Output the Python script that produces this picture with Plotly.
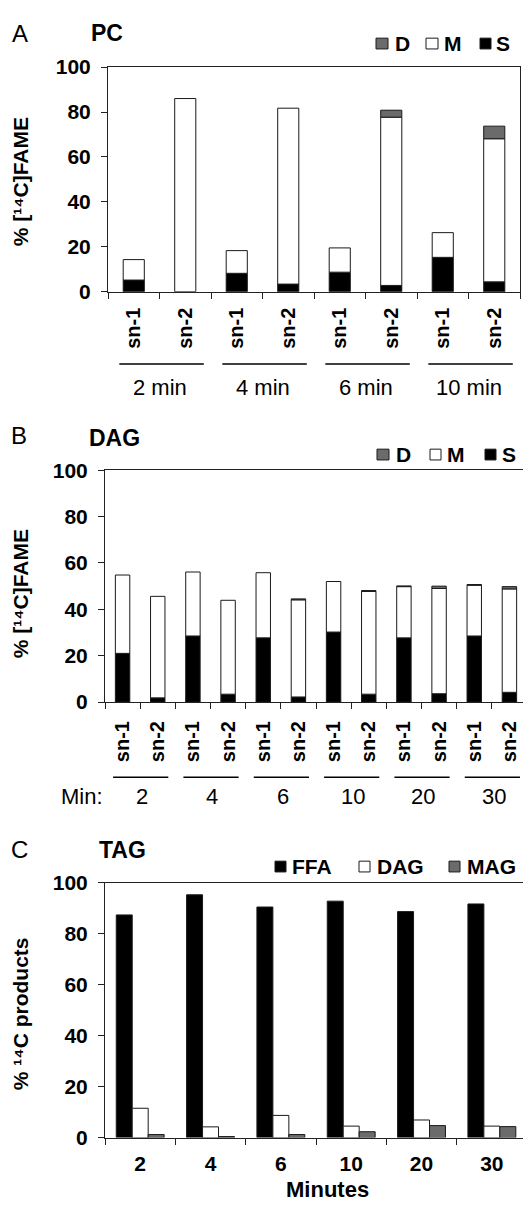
import plotly.graph_objects as go
import numpy as np

W, H = 531, 1207
FONT = "Liberation Sans"

# ---------------- Data ----------------
# Panel A: PC
pc_times = ["2 min", "4 min", "6 min", "10 min"]
pc_positions = ["sn-1", "sn-2"]
pc_S = [5.2, 0.0, 8.2, 3.4, 8.7, 2.8, 15.3, 4.4]
pc_M = [9.1, 86.0, 10.1, 78.3, 10.8, 74.9, 11.0, 63.7]
pc_D = [0.0, 0.0, 0.0, 0.0, 0.0, 3.1, 0.0, 5.6]

# Panel B: DAG
dag_times = ["2", "4", "6", "10", "20", "30"]
dag_positions = ["sn-1", "sn-2"]
dag_S = [21.0, 1.8, 28.5, 3.4, 27.7, 2.2, 30.2, 3.4, 27.7, 3.6, 28.5, 4.2]
dag_M = [33.8, 43.8, 27.6, 40.5, 28.1, 41.9, 21.8, 44.3, 22.1, 45.4, 21.9, 44.6]
dag_D = [0.0, 0.0, 0.0, 0.0, 0.0, 0.4, 0.0, 0.4, 0.3, 1.0, 0.3, 1.0]

# Panel C: TAG
tag_minutes = ["2", "4", "6", "10", "20", "30"]
tag_FFA = [87.3, 95.2, 90.4, 92.7, 88.6, 91.6]
tag_DAG = [11.5, 4.2, 8.7, 4.5, 6.9, 4.5]
tag_MAG = [1.2, 0.4, 1.2, 2.3, 4.7, 4.3]

y_ticks = [0, 20, 40, 60, 80, 100]

# ---------------- Styles ----------------
BLACK = "#000000"
WHITE = "#ffffff"
GRAY = "#6b6b6b"
EDGE = "#1a1a1a"


def fx(p):
    return p / W


def fy(p):
    return 1 - p / H


fig = go.Figure()


def stacked(xaxis, yaxis, cats, S, M, D):
    S = np.array(S)
    M = np.array(M)
    D = np.array(D)
    for vals, base, col in [(S, np.zeros_like(S), BLACK), (M, S, WHITE), (D, S + M, GRAY)]:
        shown = [v if v > 0 else None for v in vals]
        fig.add_trace(go.Bar(
            x=cats, y=shown, base=base, width=0.41, offset=-0.205,
            marker=dict(color=col, line=dict(color=EDGE, width=1)),
            xaxis=xaxis, yaxis=yaxis, showlegend=False, hoverinfo="skip"))


pc_cats = [f"{t} {p}" for t in pc_times for p in pc_positions]
dag_cats = [f"{t} {p}" for t in dag_times for p in dag_positions]
stacked("x", "y", pc_cats, pc_S, pc_M, pc_D)
stacked("x2", "y2", dag_cats, dag_S, dag_M, dag_D)

bw = 0.227
for vals, off, col in [(tag_FFA, -0.34, BLACK), (tag_DAG, -0.34 + bw, WHITE), (tag_MAG, -0.34 + 2 * bw, GRAY)]:
    fig.add_trace(go.Bar(
        x=tag_minutes, y=vals, width=bw, offset=off,
        marker=dict(color=col, line=dict(color=EDGE, width=1)),
        xaxis="x3", yaxis="y3", showlegend=False, hoverinfo="skip"))

tickfont = dict(family=FONT, size=21, color="black", weight=700)
xtickfont = dict(family=FONT, size=20, color="black", weight=700)

common_x = dict(type="category", showgrid=False, zeroline=False, showline=True,
                linecolor="#222", linewidth=1, mirror=True, ticks="outside",
                ticklen=6, tickcolor="#222", tickson="boundaries", fixedrange=True)
common_y = dict(range=[0, 100], tickvals=y_ticks, showgrid=False, zeroline=False,
                showline=True, linecolor="#222", linewidth=1, mirror=True,
                ticks="outside", ticklen=6, tickcolor="#222", tickfont=tickfont,
                ticklabelstandoff=6, fixedrange=True)

fig.update_layout(
    width=W, height=H, autosize=False,
    margin=dict(l=0, r=0, t=0, b=0),
    paper_bgcolor="white", plot_bgcolor="white",
    barmode="overlay", showlegend=False,
    xaxis=dict(common_x, domain=[fx(100), fx(512)], anchor="y",
               tickmode="array", tickvals=pc_cats,
               ticktext=[p for t in pc_times for p in pc_positions],
               tickangle=-90, tickfont=xtickfont, ticklabelstandoff=7),
    yaxis=dict(common_y, domain=[fy(277), fy(48)], anchor="x"),
    xaxis2=dict(common_x, domain=[fx(97), fx(519)], anchor="y2",
                tickmode="array", tickvals=dag_cats,
                ticktext=[p for t in dag_times for p in dag_positions],
                tickangle=-90, tickfont=xtickfont, ticklabelstandoff=10),
    yaxis2=dict(common_y, domain=[fy(695.3), fy(459)], anchor="x2"),
    xaxis3=dict(common_x, domain=[fx(97), fx(519)], anchor="y3",
                tickfont=dict(family=FONT, size=21, color="black", weight=700),
                ticklabelstandoff=7),
    yaxis3=dict(common_y, domain=[fy(1139.3), fy(879.3)], anchor="x3"),
)

ann = []
shapes = []


def text(x, y, s, size, bold=False, xanchor="center", yanchor="middle", angle=0,
         xref="paper", yref="paper"):
    ann.append(dict(x=x, y=y, text=s, xref=xref, yref=yref, showarrow=False,
                    xanchor=xanchor, yanchor=yanchor, textangle=angle,
                    font=dict(family=FONT, size=size, color="black",
                              weight=700 if bold else 400)))


# panel letters and titles
text(fx(2), fy(13.5), "A", 24, xanchor="left")
text(fx(81), fy(13.5), "PC", 23, bold=True, xanchor="left")
text(fx(1), fy(424), "B", 24, xanchor="left")
text(fx(79), fy(426), "DAG", 23, bold=True, xanchor="left")
text(fx(1), fy(846), "C", 24, xanchor="left")
text(fx(89), fy(846), "TAG", 23, bold=True, xanchor="left")

# y-axis titles
text(fx(12.5), fy(165), "% [¹⁴C]FAME", 21, bold=True, angle=-90)
text(fx(12.5), fy(585), "% [¹⁴C]FAME", 21, bold=True, angle=-90)
text(fx(12.5), fy(1013), "% ¹⁴C products", 21, bold=True, angle=-90)
text(fx(319), fy(1192), "Minutes", 22, bold=True)


def legend(items, yc):
    for (x0, x1, tx, label, col) in items:
        shapes.append(dict(type="rect", xref="paper", yref="paper",
                           x0=fx(x0), x1=fx(x1), y0=fy(yc - 5.5), y1=fy(yc + 5.5),
                           fillcolor=col, line=dict(color=EDGE, width=1)))
        text(fx(tx), fy(yc), label, 21, bold=True, xanchor="left")


legend([(368, 380, 385, "D", GRAY), (418, 430, 434, "M", WHITE),
        (472, 483, 486, "S", BLACK)], 24)
legend([(369, 381, 386, "D", GRAY), (422, 433, 437, "M", WHITE),
        (477, 488, 492, "S", BLACK)], 443)
legend([(267, 278, 282, "FFA", BLACK), (351, 362, 367, "DAG", WHITE),
        (441, 452, 457, "MAG", GRAY)], 863)

# group lines and labels
for i, t in enumerate(pc_times):
    shapes.append(dict(type="line", xref="x", yref="paper",
                       x0=2 * i - 0.28, x1=2 * i + 1.36, y0=fy(350.7), y1=fy(350.7),
                       line=dict(color="black", width=1.5)))
    text(2 * i + 0.5, fy(375), t, 22, xref="x")

for i, t in enumerate(dag_times):
    shapes.append(dict(type="line", xref="x2", yref="paper",
                       x0=2 * i - 0.27, x1=2 * i + 1.3, y0=fy(772), y1=fy(772),
                       line=dict(color="black", width=1.5)))
    text(2 * i + 0.55, fy(792), t, 22, xref="x2")
text(fx(97), fy(792), "Min:", 22, xanchor="right")

fig.update_layout(annotations=ann, shapes=shapes)
fig.write_html("out.html")
